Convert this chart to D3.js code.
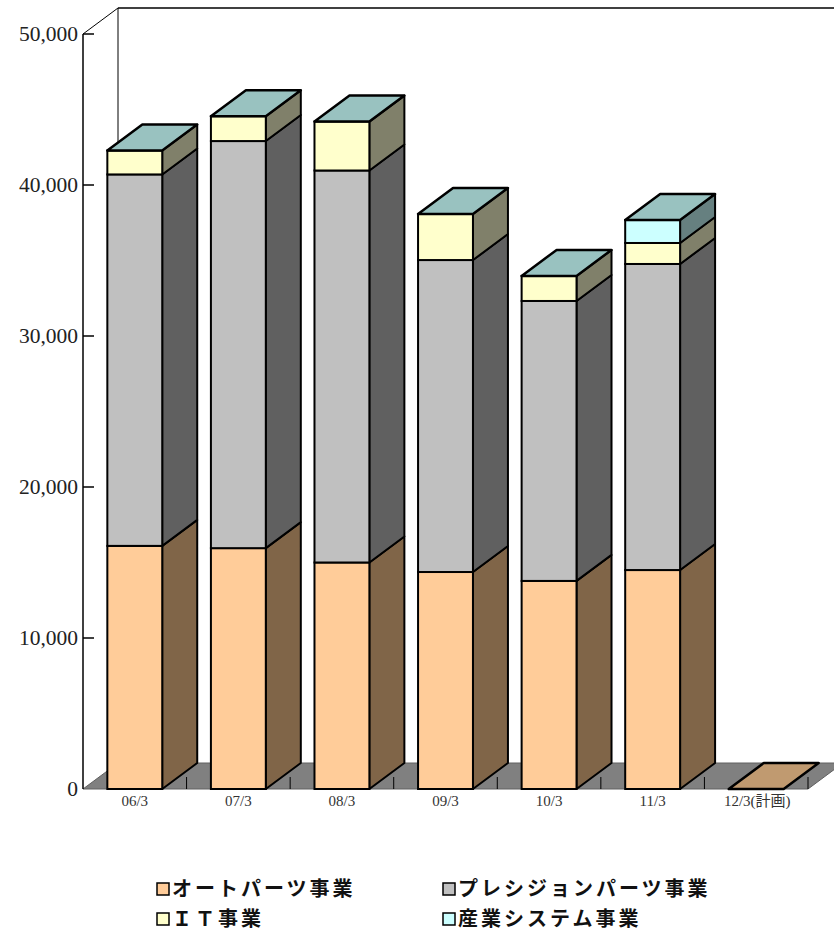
<!DOCTYPE html>
<html>
<head>
<meta charset="utf-8">
<script src="https://cdn.jsdelivr.net/npm/d3@7"></script>
<style>
  body { margin: 0; background: #fff; }
  svg { display: block; }
</style>
</head>
<body>
<div id="chart"></div>
<script>
const categories = ["06/3", "07/3", "08/3", "09/3", "10/3", "11/3", "12/3(計画)"]
const seriesNames = ["オートパーツ事業", "プレシジョンパーツ事業", "ＩＴ事業", "産業システム事業"]
const autoParts = [16100, 15950, 15000, 14370, 13780, 14500, 0]
const precision = [24600, 26960, 25960, 20660, 18540, 20270, 0]
const itBiz = [1580, 1650, 3240, 3050, 1660, 1390, 0]
const industrial = [0, 0, 0, 0, 0, 1520, 0]
const yTicks = [0, 10000, 20000, 30000, 40000, 50000]

const frontColors = ["#ffcc99", "#c0c0c0", "#ffffcc", "#ccffff"]
const sideColors = ["#806548", "#606060", "#80806a", "#668080"]
const topColors = ["#c09a70", "#909090", "#99c2c0", "#99c2c0"]

function drawChart() {
    const width = 834
    const height = 933
    const left = 83, right = 808, bottom = 789, top = 34
    const dx = 35, dy = -26

    const svg = d3.select("#chart").append("svg")
        .attr("width", width)
        .attr("height", height)

    const x = d3.scaleBand()
        .domain(categories)
        .range([left, right])
        .paddingInner(0.47)
        .paddingOuter(0.235)

    const y = d3.scaleLinear()
        .domain([0, 50000])
        .range([bottom, top])

    // back wall lines
    svg.append("line").attr("x1", left + dx).attr("y1", top + dy).attr("x2", left + dx).attr("y2", bottom + dy)
        .attr("stroke", "#000").attr("stroke-width", 1)
    svg.append("line").attr("x1", left + dx).attr("y1", top + dy).attr("x2", width + 20).attr("y2", top + dy)
        .attr("stroke", "#000").attr("stroke-width", 1.5)
    svg.append("line").attr("x1", left).attr("y1", top).attr("x2", left + dx).attr("y2", top + dy)
        .attr("stroke", "#000").attr("stroke-width", 1)

    // floor
    svg.append("path")
        .attr("d", `M${left},${bottom} L${right},${bottom} L${right + dx},${bottom + dy} L${left + dx},${bottom + dy} Z`)
        .attr("fill", "#808080")
        .attr("stroke", "#606060")
        .attr("stroke-width", 1)

    // floor ticks at category boundaries
    const step = x.step()
    svg.selectAll(".ftick").data(d3.range(1, categories.length + 1))
        .enter().append("line")
        .attr("class", "ftick")
        .attr("x1", i => left + i * step).attr("x2", i => left + i * step)
        .attr("y1", bottom).attr("y2", bottom - 12)
        .attr("stroke", "#000").attr("stroke-width", 1)

    // y axis
    svg.append("line").attr("x1", left).attr("y1", top).attr("x2", left).attr("y2", bottom)
        .attr("stroke", "#000").attr("stroke-width", 1.5)
    const yt = svg.selectAll(".ytick").data(yTicks).enter().append("g").attr("class", "ytick")
    yt.filter(d => d > 0).append("line")
        .attr("x1", left).attr("x2", left + 11)
        .attr("y1", d => y(d)).attr("y2", d => y(d))
        .attr("stroke", "#000").attr("stroke-width", 1.5)
    yt.append("text")
        .attr("x", left - 5)
        .attr("y", d => y(d) + 7)
        .attr("text-anchor", "end")
        .attr("font-family", "'Liberation Serif', 'DejaVu Serif', serif")
        .attr("font-size", 21.5)
        .attr("fill", "#222")
        .text(d => d3.format(",")(d))

    // bars
    const series = [autoParts, precision, itBiz, industrial]
    categories.forEach((c, i) => {
        const x0 = x(c)
        const x1 = x0 + x.bandwidth()
        const g = svg.append("g")
        let base = 0
        let topIdx = 0
        series.forEach((s, k) => {
            const v = s[i]
            if (v <= 0) return
            const yb = y(base), yt2 = y(base + v)
            g.append("path")
                .attr("d", `M${x1},${yb} L${x1 + dx},${yb + dy} L${x1 + dx},${yt2 + dy} L${x1},${yt2} Z`)
                .attr("fill", sideColors[k])
                .attr("stroke", "#000").attr("stroke-width", 2).attr("stroke-linejoin", "round")
            g.append("rect")
                .attr("x", x0).attr("y", yt2)
                .attr("width", x.bandwidth()).attr("height", yb - yt2)
                .attr("fill", frontColors[k])
                .attr("stroke", "#000").attr("stroke-width", 2)
            base += v
            topIdx = k
        })
        const yTop = y(base)
        g.append("path")
            .attr("d", `M${x0},${yTop} L${x1},${yTop} L${x1 + dx},${yTop + dy} L${x0 + dx},${yTop + dy} Z`)
            .attr("fill", topColors[topIdx])
            .attr("stroke", "#000").attr("stroke-width", 2.5).attr("stroke-linejoin", "round")
    })

    // x labels
    svg.selectAll(".xlab").data(categories).enter().append("text")
        .attr("class", "xlab")
        .attr("x", d => x(d) + x.bandwidth() / 2 + (d.length > 5 ? 1 : 0))
        .attr("y", 806)
        .attr("text-anchor", "middle")
        .attr("font-family", "'Liberation Serif', 'DejaVu Serif', 'Noto Sans CJK JP', serif")
        .attr("font-size", 15)
        .attr("fill", "#333")
        .text(d => d)

    // legend
    const legendPos = [[157, 889], [443, 889], [157, 919], [443, 919]]
    const lg = svg.selectAll(".leg").data(seriesNames).enter().append("g")
        .attr("class", "leg")
        .attr("transform", (d, i) => `translate(${legendPos[i][0]},${legendPos[i][1]})`)
    lg.append("rect")
        .attr("x", 0).attr("y", -6).attr("width", 12).attr("height", 12)
        .attr("fill", (d, i) => frontColors[i])
        .attr("stroke", "#000").attr("stroke-width", 1.5)
    lg.append("text")
        .attr("x", 15).attr("y", 7)
        .attr("font-family", "'Noto Sans CJK JP', sans-serif")
        .attr("font-weight", "bold")
        .attr("font-size", 20)
        .attr("letter-spacing", 3)
        .attr("fill", "#111")
        .text(d => d)
}

drawChart()
</script>
</body>
</html>
